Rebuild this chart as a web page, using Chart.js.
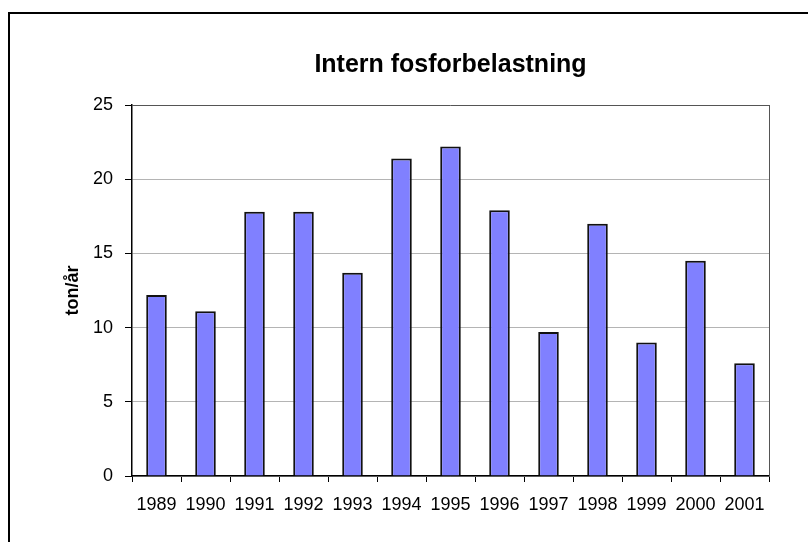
<!DOCTYPE html>
<html>
<head>
<meta charset="utf-8">
<script src="https://cdn.jsdelivr.net/npm/chart.js@4/dist/chart.umd.min.js"></script>
<style>
  html, body { margin: 0; padding: 0; background: #fff; overflow: hidden; }
  #frame {
    position: absolute; left: 8px; top: 12px;
    width: 900px; height: 600px;
    border-left: 2px solid #000; border-top: 2px solid #000;
  }
  #wrap { position: absolute; left: 0; top: 0; width: 808px; height: 542px; }
</style>
</head>
<body>
<div id="frame"></div>
<div id="wrap"><canvas id="chart" width="808" height="542"></canvas></div>
<script>
const years = ["1989", "1990", "1991", "1992", "1993", "1994", "1995",
               "1996", "1997", "1998", "1999", "2000", "2001"];
const fosfor = [12.2, 11.1, 17.8, 17.8, 13.7, 21.4, 22.2,
                17.9, 9.7, 17.0, 9.0, 14.5, 7.6];
const yTicks = [0, 5, 10, 15, 20, 25];

const FONT = "'Liberation Sans', Arial, Helvetica, sans-serif";

new Chart(document.getElementById("chart"), {
  type: "bar",
  data: {
    labels: years,
    datasets: [{
      data: fosfor,
      backgroundColor: "#8080ff",
      borderColor: "#111",
      borderWidth: 2,
      categoryPercentage: 1,
      barPercentage: 0.42
    }]
  },
  options: {
    responsive: false,
    animation: false,
    layout: { padding: { left: 0, right: 39, top: 0, bottom: 0 } },
    plugins: {
      legend: { display: false },
      tooltip: { enabled: false },
      title: {
        display: true,
        fullSize: false,
        text: "Intern fosforbelastning",
        color: "#000",
        font: { family: FONT, size: 25, weight: "bold", lineHeight: 1.2 },
        padding: { top: 50, bottom: 25 }
      }
    },
    scales: {
      x: {
        grid: {
          offset: true,
          drawOnChartArea: false,
          drawTicks: true,
          tickLength: 6,
          tickColor: "#000"
        },
        border: { display: true, color: "#000", width: 1.5 },
        ticks: {
          color: "#000",
          font: { family: FONT, size: 18 },
          padding: 12,
          maxRotation: 0
        },
        afterFit: (s) => { s.height = 66; }
      },
      y: {
        min: 0,
        max: 25,
        afterBuildTicks: (s) => { s.ticks = yTicks.map(v => ({ value: v })); },
        grid: {
          color: (c) => c.tick && c.tick.value === 25 ? "#555" : "#b4b4b4",
          lineWidth: 1,
          tickLength: 7,
          tickColor: "#000"
        },
        border: { display: true, color: "#000", width: 1.5 },
        ticks: {
          color: "#000",
          font: { family: FONT, size: 18 },
          padding: 12
        },
        title: {
          display: true,
          text: "ton/år",
          color: "#000",
          font: { family: FONT, size: 18, weight: "bold", lineHeight: 1.2 },
          padding: { top: 62, bottom: 0 }
        },
        afterFit: (s) => { s.width = 132; }
      },
      yRight: {
        position: "right",
        min: 0,
        max: 25,
        grid: { display: false, drawTicks: false },
        ticks: { display: false },
        border: { display: true, color: "#555", width: 1 },
        afterFit: (s) => { s.width = 0; }
      }
    }
  }
});
</script>
</body>
</html>
